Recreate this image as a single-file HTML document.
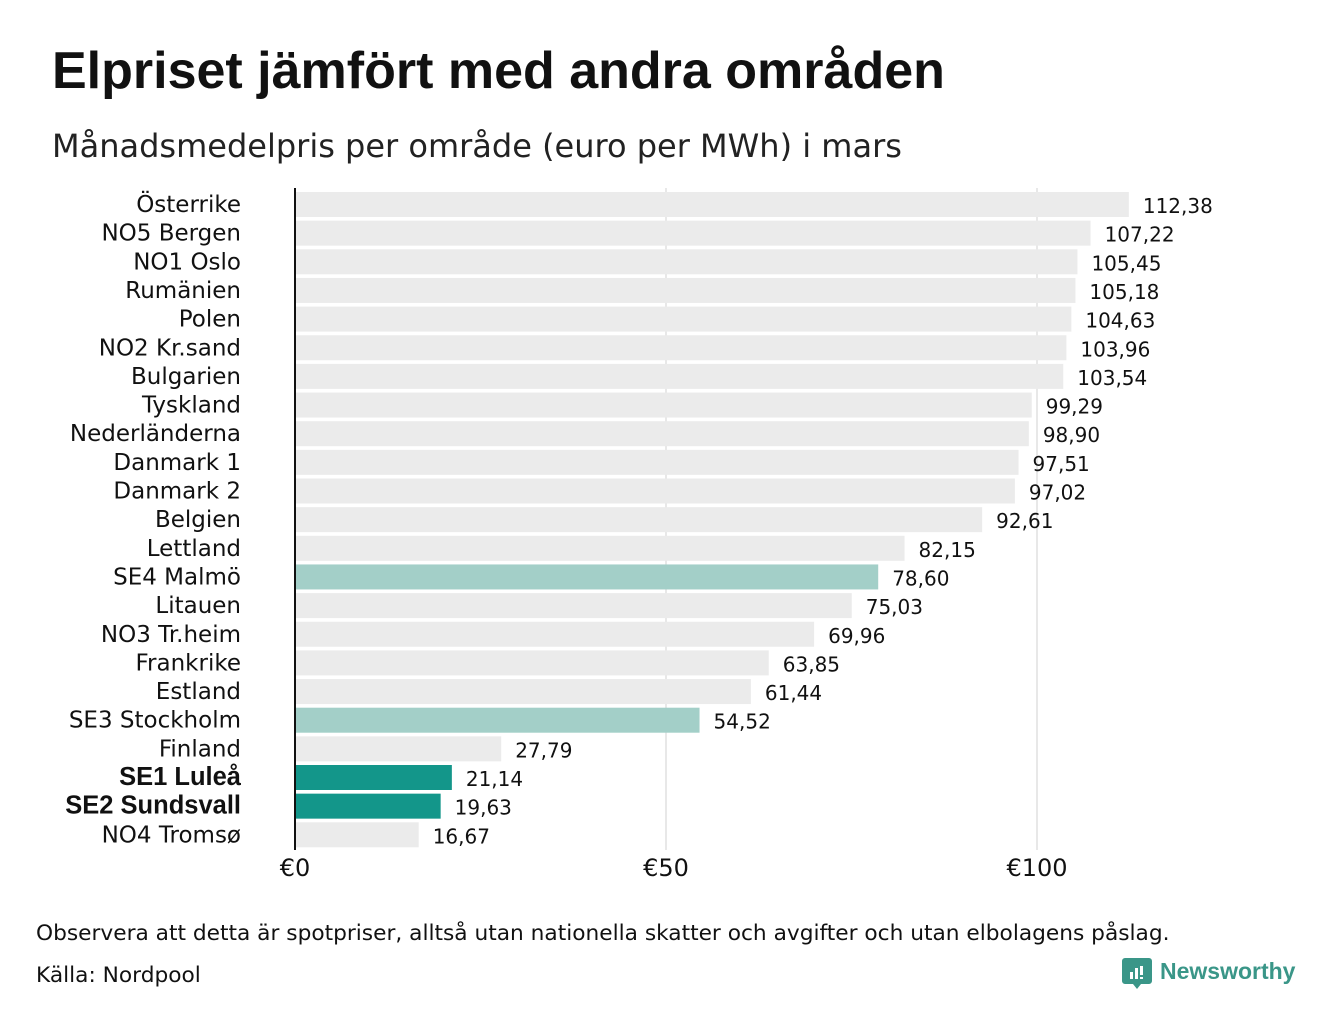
<!DOCTYPE html>
<html><head><meta charset="utf-8"><style>
body{margin:0;background:#fff;width:1340px;height:1020px;overflow:hidden;font-family:"Liberation Sans","DejaVu Sans",sans-serif}
svg text{font-family:"DejaVu Sans","Liberation Sans",sans-serif}
</style></head><body>
<svg width="1340" height="1020">
<text x="52" y="88" font-size="52" font-weight="bold" fill="#111" style="font-family:'Liberation Sans',sans-serif">Elpriset jämfört med andra områden</text>
<text x="52" y="157" font-size="32" fill="#222">Månadsmedelpris per område (euro per MWh) i mars</text>
<g id="grid"></g>
<g id="bars"></g>
<line x1="295" y1="188" x2="295" y2="850" stroke="#111" stroke-width="2"/>
<text x="36" y="940" font-size="21.7" fill="#111">Observera att detta är spotpriser, alltså utan nationella skatter och avgifter och utan elbolagens påslag.</text>
<text x="36" y="982" font-size="21.7" fill="#111">Källa: Nordpool</text>
<g>
<path d="M1125 958 h24 a3 3 0 0 1 3 3 v20 a3 3 0 0 1 -3 3 h-8 l-4 5 l-4 -5 h-8 a3 3 0 0 1 -3 -3 v-20 a3 3 0 0 1 3 -3z" fill="#3a9688"/>
<rect x="1130" y="972" width="3" height="7" fill="#fff"/><rect x="1135" y="968" width="3" height="11" fill="#fff"/><rect x="1140" y="966" width="3" height="9" fill="#fff"/><rect x="1140" y="977" width="3" height="2" fill="#fff"/>
<text x="1160" y="979" font-size="23" font-weight="bold" fill="#3a9688" style="font-family:'Liberation Sans',sans-serif">Newsworthy</text>
</g>
</svg>
<script>
const categories=["Österrike","NO5 Bergen","NO1 Oslo","Rumänien","Polen","NO2 Kr.sand","Bulgarien","Tyskland","Nederländerna","Danmark 1","Danmark 2","Belgien","Lettland","SE4 Malmö","Litauen","NO3 Tr.heim","Frankrike","Estland","SE3 Stockholm","Finland","SE1 Luleå","SE2 Sundsvall","NO4 Tromsø"];
const values=[112.38,107.22,105.45,105.18,104.63,103.96,103.54,99.29,98.90,97.51,97.02,92.61,82.15,78.60,75.03,69.96,63.85,61.44,54.52,27.79,21.14,19.63,16.67];
const ticks=[0,50,100];
const tickLabels=["€0","€50","€100"];
const NS="http://www.w3.org/2000/svg";
const x=v=>295+v*7.42;
const y=i=>192+i*28.65;
const bh=25;
function mk(t,a,p){const e=document.createElementNS(NS,t);for(const k in a)e.setAttribute(k,a[k]);p.appendChild(e);return e;}
const grid=document.getElementById('grid'),bars=document.getElementById('bars');
ticks.forEach((t,i)=>{
 if(t>0){const l=mk('line',{x1:x(t),x2:x(t),y1:188,y2:850,stroke:'#d0d0d0','stroke-width':1},grid);
 
 }
 const tx=mk('text',{x:x(t),y:876,'font-size':24,'text-anchor':'middle',fill:'#111'},grid);
 tx.textContent=tickLabels[i];
 
 
});
categories.forEach((c,i)=>{
 const se12=c.startsWith('SE1')||c.startsWith('SE2');
 const se34=c.startsWith('SE3')||c.startsWith('SE4');
 const col=se12?'#13968a':se34?'#a3cfc8':'#ebebeb';
 const r=mk('rect',{x:296,y:y(i),width:x(values[i])-296,height:bh,fill:col},bars);
 
 
 const lb=mk('text',{x:241,y:y(i)+20,'font-size':se12?25.5:23,'text-anchor':'end',fill:'#111'},bars);
 if(se12){lb.setAttribute('font-weight','bold');lb.setAttribute('style',"font-family:'Liberation Sans',sans-serif");}
 lb.textContent=c;
 
 
 const vl=mk('text',{x:x(values[i])+14,y:y(i)+21,'font-size':20,fill:'#111'},bars);
 vl.textContent=values[i].toFixed(2).replace('.',',');
 
 
});
</script>
</body></html>
